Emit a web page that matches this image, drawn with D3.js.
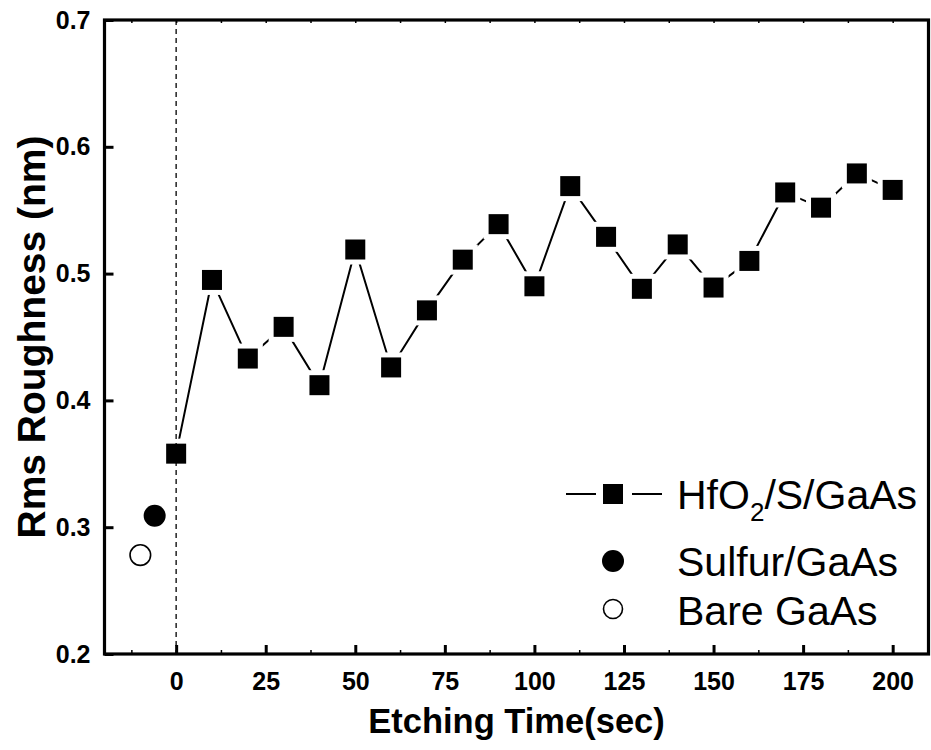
<!DOCTYPE html>
<html>
<head>
<meta charset="utf-8">
<script src="https://cdn.jsdelivr.net/npm/d3@7"></script>
<style>
  html, body { margin: 0; padding: 0; background: #fff; }
  svg { display: block; font-family: "Liberation Sans", Arial, sans-serif; }
</style>
</head>
<body>
<svg id="chart" width="931" height="750"></svg>
<script>
// ---- data ----
const etchTimes = [0, 10, 20, 30, 40, 50, 60, 70, 80, 90, 100, 110, 120, 130, 140, 150, 160, 170, 180, 190, 200];
const hfo2Roughness = [0.358, 0.495, 0.433, 0.458, 0.412, 0.519, 0.426, 0.471, 0.511, 0.539, 0.490, 0.569, 0.529, 0.488, 0.523, 0.489, 0.510, 0.564, 0.552, 0.579, 0.566];
const sulfurPoint = [{ x: -6, y: 0.309 }];
const barePoint = [{ x: -10, y: 0.278 }];
const xTicks = [0, 25, 50, 75, 100, 125, 150, 175, 200];
const xMinorTicks = [-12.5, 12.5, 37.5, 62.5, 87.5, 112.5, 137.5, 162.5, 187.5];
const yTicks = [0.2, 0.3, 0.4, 0.5, 0.6, 0.7];
const legendLabels = ["HfO", "Sulfur/GaAs", "Bare GaAs"];

// ---- layout ----
const svg = d3.select("#chart");
const x = d3.scaleLinear().domain([-20, 210]).range([104.5, 928.5]);
const y = d3.scaleLinear().domain([0.2, 0.7]).range([654, 20]);
const [x0, x1] = x.range();
const [yb, yt] = y.range();

// data line
const pts = etchTimes.map((t, i) => ({ x: t, y: hfo2Roughness[i] }));
svg.append("path")
  .datum(pts)
  .attr("fill", "none")
  .attr("stroke", "#000")
  .attr("stroke-width", 2)
  .attr("d", d3.line().x(d => x(d.x)).y(d => y(d.y)));

// white halos (gap between line and squares)
const sq = 20, halo = 5;
svg.append("g").selectAll("rect").data(pts).join("rect")
  .attr("x", d => x(d.x) - sq / 2 - halo)
  .attr("y", d => y(d.y) - sq / 2 - halo)
  .attr("width", sq + 2 * halo).attr("height", sq + 2 * halo)
  .attr("fill", "#fff");

// dashed vertical line at t = 0
svg.append("line")
  .attr("x1", x(0)).attr("x2", x(0))
  .attr("y1", yt).attr("y2", yb)
  .attr("stroke", "#222").attr("stroke-width", 1.5)
  .attr("stroke-dasharray", "5,4");

svg.append("g").selectAll("rect").data(pts).join("rect")
  .attr("x", d => x(d.x) - sq / 2)
  .attr("y", d => y(d.y) - sq / 2)
  .attr("width", sq).attr("height", sq)
  .attr("fill", "#000");

// sulfur and bare points
svg.append("g").selectAll("circle").data(sulfurPoint).join("circle")
  .attr("cx", d => x(d.x)).attr("cy", d => y(d.y)).attr("r", 11)
  .attr("fill", "#000");
svg.append("g").selectAll("circle").data(barePoint).join("circle")
  .attr("cx", d => x(d.x)).attr("cy", d => y(d.y)).attr("r", 10.3)
  .attr("fill", "#fff").attr("stroke", "#000").attr("stroke-width", 1.6);

// ---- axes ----
const bottomAxis = d3.axisBottom(x).tickValues(xTicks).tickSize(-9).tickPadding(18).tickFormat(d3.format("d"));
const gx = svg.append("g").attr("transform", `translate(0,${yb})`).call(bottomAxis);
const leftAxis = d3.axisLeft(y).tickValues(yTicks).tickSize(-9).tickPadding(14).tickFormat(d3.format(".1f"));
const gy = svg.append("g").attr("transform", `translate(${x0},0)`).call(leftAxis);
[gx, gy].forEach(g => {
  g.select(".domain").remove();
  g.selectAll(".tick line").attr("stroke", "#000").attr("stroke-width", 3);
  g.selectAll(".tick text")
    .attr("fill", "#000")
    .style("font-size", "25px")
    .style("font-weight", "bold")
    .style("font-family", "'Liberation Sans', Arial, sans-serif");
});
// minor ticks bottom & top
const minorB = d3.axisBottom(x).tickValues(xMinorTicks).tickSize(-4).tickFormat("");
const gmb = svg.append("g").attr("transform", `translate(0,${yb})`).call(minorB);
const minorT = d3.axisTop(x).tickValues(xMinorTicks.concat(xTicks)).tickSize(-3).tickFormat("");
const gmt = svg.append("g").attr("transform", `translate(0,${yt})`).call(minorT);
[gmb, gmt].forEach(g => {
  g.select(".domain").remove();
  g.selectAll(".tick line").attr("stroke", "#000").attr("stroke-width", 1.5);
});

// frame
svg.append("rect")
  .attr("x", x0).attr("y", yt)
  .attr("width", x1 - x0).attr("height", yb - yt)
  .attr("fill", "none").attr("stroke", "#000").attr("stroke-width", 3.2);

// axis titles
svg.append("text")
  .attr("x", (x0 + x1) / 2).attr("y", 733)
  .attr("text-anchor", "middle")
  .style("font-size", "34.5px").style("font-weight", "bold")
  .text("Etching Time(sec)");
svg.append("text")
  .attr("transform", `translate(45,337) rotate(-90)`)
  .attr("text-anchor", "middle")
  .style("font-size", "39px").style("font-weight", "bold")
  .text("Rms Roughness (nm)");

// ---- legend ----
const lg = svg.append("g");
const markX = 613, textX = 677;
// row 1
lg.append("line").attr("x1", 566).attr("x2", 596).attr("y1", 494).attr("y2", 494)
  .attr("stroke", "#000").attr("stroke-width", 2);
lg.append("line").attr("x1", 632).attr("x2", 662).attr("y1", 494).attr("y2", 494)
  .attr("stroke", "#000").attr("stroke-width", 2);
lg.append("rect").attr("x", markX - 10).attr("y", 494 - 10).attr("width", 20).attr("height", 20).attr("fill", "#000");
const t1 = lg.append("text").attr("x", textX).attr("y", 509).style("font-size", "41px");
t1.append("tspan").text(legendLabels[0]);
t1.append("tspan").attr("dy", 12).style("font-size", "26px").text("2");
t1.append("tspan").attr("dy", -12).text("/S/GaAs");
// row 2
lg.append("circle").attr("cx", markX).attr("cy", 561).attr("r", 11).attr("fill", "#000");
lg.append("text").attr("x", textX).attr("y", 576).style("font-size", "41px").text(legendLabels[1]);
// row 3
lg.append("circle").attr("cx", markX).attr("cy", 609).attr("r", 9.5)
  .attr("fill", "#fff").attr("stroke", "#000").attr("stroke-width", 1.6);
lg.append("text").attr("x", textX).attr("y", 625).style("font-size", "41px").text(legendLabels[2]);
</script>
</body>
</html>
